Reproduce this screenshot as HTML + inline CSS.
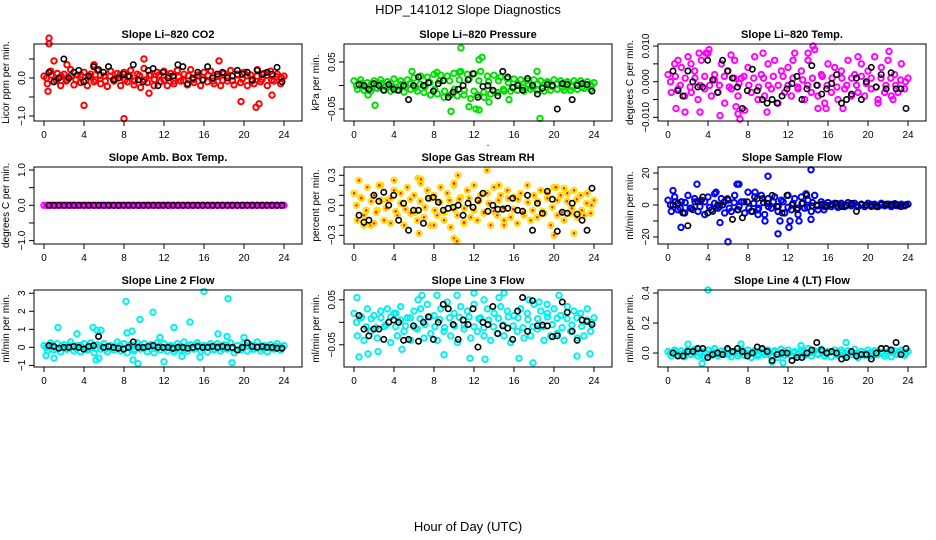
<!DOCTYPE html>
<html><head><meta charset="utf-8"><style>
html,body{margin:0;padding:0;background:#fff;}
svg{display:block;font-family:"Liberation Sans",sans-serif;}
</style></head><body>
<svg id="chart" width="936" height="540" viewBox="0 0 936 540">
<text x="468" y="14" text-anchor="middle" font-size="13">HDP_141012  Slope Diagnostics</text>
<text x="468" y="531" text-anchor="middle" font-size="13">Hour of Day (UTC)</text>
</svg>
<script>
// ---- data ----
const co2 = [0.05,-0.15,0.18,-0.1,0.12,-0.2,0.1,-0.05,0.22,-0.18,0.08,-0.12,0.15,-0.2,0.1,-0.1,0.2,-0.15,0.05,-0.22,0.18,-0.08,0.12,-0.2,0.15,-0.1,0.2,-0.18,0.1,-0.25,0.25,-0.12,0.08,-0.2,0.15,-0.1,0.18,-0.2,0.12,-0.15,0.2,-0.08,0.1,-0.18,0.22,-0.12,0.05,-0.2,0.15,-0.1,0.18,-0.15,0.1,-0.2,0.12,-0.08,0.2,-0.18,0.1,-0.12,0.15,-0.2,0.08,-0.15,0.22,-0.1,0.12,-0.2,0.18,-0.08,0.1,-0.15,0.05];
const co2Core = [0.0,0.08,-0.06,0.05,-0.08,0.06,-0.04,0.08,-0.07,0.03,-0.05,0.07,-0.08,0.05,-0.03,0.08,-0.06,0.04,-0.08,0.06,-0.05,0.07,-0.04,0.08,-0.06,0.05,-0.08,0.03,-0.07,0.06,-0.04,0.08,-0.05,0.07,-0.08,0.04,-0.06,0.05,-0.07,0.08,-0.03,0.06,-0.08,0.05,-0.04,0.07,-0.06,0.03,0.0];
const co2OutHours = [0.4,0.5,0.5,4,8,10,19.7,21.2,21.5,22.8,2.3,17.5,1,10.5,5];
const co2OutVals = [-0.35,1.05,0.9,-0.72,-1.07,0.5,-0.62,-0.77,-0.68,-0.45,0.35,0.45,0.45,-0.4,0.35];
const co2Black = [0.15,-0.1,0.0,0.5,0.0,0.15,0.2,-0.1,0.05,0.3,0.22,0.15,0.3,-0.05,0.0,0.1,0.05,0.35,-0.05,-0.1,0.2,0.25,-0.2,0.15,0.0,0.05,0.35,0.3,-0.15,0.0,0.15,-0.05,0.3,0.0,0.1,0.15,0.0,0.05,0.2,0.1,0.15,-0.05,0.2,0.1,0.15,0.1,0.28,-0.1];

const pres = [0.01,-0.008,0.012,-0.01,0.006,-0.012,0.01,-0.006,0.012,-0.01,0.008,-0.012,0.014,-0.01,0.01,-0.014,0.012,-0.008,0.016,-0.012,0.02,-0.015,0.018,-0.02,0.024,-0.018,0.022,-0.025,0.02,-0.02,0.026,-0.022,0.03,-0.02,0.024,-0.028,0.025,-0.02,0.03,-0.025,0.02,-0.018,0.022,-0.015,0.018,-0.012,0.015,-0.012,0.014,-0.01,0.012,-0.012,0.01,-0.008,0.012,-0.01,0.01,-0.012,0.008,-0.01,0.012,-0.008,0.01,-0.01,0.008,-0.01,0.01,-0.008,0.01,-0.006,0.008,-0.008,0.006];
const presCore = [0.0,0.005,-0.004,0.003,-0.005,0.004,-0.003,0.005,-0.004,0.002,-0.003,0.004,-0.005,0.003,-0.002,0.006,-0.008,0.01,-0.012,0.01,-0.008,0.012,-0.01,0.014,-0.012,0.01,-0.014,0.008,-0.012,0.01,-0.008,0.006,-0.005,0.004,-0.005,0.003,-0.004,0.003,-0.004,0.005,-0.002,0.004,-0.005,0.003,-0.003,0.004,-0.004,0.002,0.0];
const presOutHours = [2.1,10.7,9.7,12.8,12.5,12.2,12.5,18.6,18.3,5.8,10.5,8.3,13.5,15.5,1.4,11.5];
const presOutVals = [-0.042,0.08,-0.055,0.06,0.055,-0.05,-0.052,-0.07,0.03,0.03,0.028,0.028,-0.035,-0.03,-0.02,-0.045];
const presBlack = [0.002,0.0,-0.008,0.004,0.0,-0.01,0.002,-0.008,-0.01,0.0,-0.03,0.0,0.018,0.0,0.006,-0.012,0.004,0.01,-0.025,-0.014,-0.008,0.0,0.012,0.025,-0.025,-0.002,0.0,-0.01,-0.022,0.03,0.018,-0.004,0.0,-0.01,0.015,0.0,-0.018,-0.006,0.002,0.0,-0.05,0.004,0.002,-0.03,0.0,0.004,0.002,-0.012];

const temp = [0.002,-0.003,0.005,-0.002,0.004,-0.004,0.007,-0.003,0.003,-0.005,0.006,-0.002,0.008,-0.004,0.002,-0.003,0.005,-0.006,0.003,-0.002,0.006,-0.004,0.001,-0.008,0.004,-0.003,0.007,-0.005,0.002,-0.004,0.005,-0.002,0.006,-0.006,0.003,-0.003,0.004,-0.004,0.008,-0.002,0.003,-0.005,0.006,-0.003,0.009,-0.004,0.002,-0.006,0.005,-0.003,0.004,-0.005,0.003,-0.002,0.006,-0.004,0.002,-0.003,0.005,-0.004,0.003,-0.002,0.007,-0.005,0.004,-0.003,0.006,-0.004,0.002,-0.003,0.005,-0.002,0.001];
const tempCore = [0.0,0.0015,-0.001,0.001,-0.0015,0.001,-0.001,0.0015,-0.001,0.0005,-0.001,0.0015,-0.0015,0.001,-0.0005,0.0015,-0.001,0.001,-0.0015,0.001,-0.001,0.0015,-0.001,0.0015,-0.001,0.001,-0.0015,0.0005,-0.001,0.001,-0.001,0.0015,-0.001,0.001,-0.0015,0.001,-0.001,0.001,-0.001,0.0015,-0.0005,0.001,-0.0015,0.001,-0.001,0.001,-0.001,0.0005,0.0];
const tempOutHours = [3.1,3.8,4.1,7,7.2,5.2,6.8,14.5,14,22.1,0.8,1.7,3.2,9.9,15,15.8,17.5,6.3,9.5,12.5,19,21,22.5,1,2.3];
const tempOutVals = [0.008,0.008,0.009,-0.009,-0.0105,-0.0095,-0.007,0.01,0.008,0.0085,-0.0075,-0.0085,-0.0085,-0.0085,-0.0075,-0.0075,-0.0075,0.0075,0.008,0.006,0.007,-0.006,-0.005,0.006,0.005];
const tempBlack = [0.003,-0.0025,-0.004,0.003,0.0,-0.0015,-0.0015,0.006,0.0005,-0.003,0.006,0.003,0.001,-0.0015,-0.0075,-0.0025,0.0035,-0.0025,-0.005,-0.006,-0.005,-0.006,-0.004,-0.002,-0.0005,0.0015,-0.005,-0.002,0.0045,-0.001,-0.0035,-0.002,-0.0005,0.002,-0.006,-0.005,-0.0035,0.001,-0.005,0.0,0.004,-0.0015,0.002,-0.002,0.0025,-0.002,-0.002,-0.0075];

const amb = [0,0,0,0,0,0,0,0,0,0,0,0,0,0,0,0,0,0,0,0,0,0,0,0,0,0,0,0,0,0,0,0,0,0,0,0,0,0,0,0,0,0,0,0,0,0,0,0,0,0,0,0,0,0,0,0,0,0,0,0,0,0,0,0,0,0,0,0,0,0,0,0,0];
const ambCore = [0,0,0,0,0,0,0,0,0,0,0,0,0,0,0,0,0,0,0,0,0,0,0,0,0,0,0,0,0,0,0,0,0,0,0,0,0,0,0,0,0,0,0,0,0,0,0,0,0];
const ambOutHours = [];
const ambOutVals = [];
const ambBlack = [0,0,0,0,0,0,0,0,0,0,0,0,0,0,0,0,0,0,0,0,0,0,0,0,0,0,0,0,0,0,0,0,0,0,0,0,0,0,0,0,0,0,0,0,0,0,0,0];

const rh = [0.12,-0.15,0.08,-0.1,0.18,-0.2,0.1,-0.05,0.2,-0.15,0.05,-0.18,0.15,-0.1,0.12,-0.2,0.18,-0.08,0.1,-0.15,0.22,-0.12,0.15,-0.2,0.1,-0.1,0.18,-0.15,0.12,-0.22,0.2,-0.1,0.08,-0.18,0.15,-0.12,0.2,-0.15,0.1,-0.08,0.12,-0.2,0.18,-0.1,0.1,-0.15,0.15,-0.12,0.08,-0.18,0.12,-0.1,0.2,-0.15,0.1,-0.12,0.15,-0.08,0.12,-0.2,0.18,-0.1,0.1,-0.15,0.12,-0.08,0.15,-0.12,0.1,-0.1,0.12,-0.08,0.05];
const rhCore = [0.0,0.07,-0.05,0.04,-0.07,0.05,-0.03,0.07,-0.06,0.02,-0.04,0.06,-0.07,0.04,-0.02,0.07,-0.05,0.03,-0.07,0.05,-0.04,0.06,-0.03,0.07,-0.05,0.04,-0.07,0.02,-0.06,0.05,-0.03,0.07,-0.04,0.06,-0.07,0.03,-0.05,0.04,-0.06,0.07,-0.02,0.05,-0.07,0.04,-0.03,0.06,-0.05,0.02,0.0];
const rhOutHours = [0.5,4,6.4,6.7,10,10.4,13.3,10,10.3,6.5,14.5,20,22,2.5,1,2,8,11,15,21,20.2];
const rhOutVals = [0.25,0.25,0.27,0.26,0.22,0.3,0.35,-0.33,-0.36,-0.28,0.2,-0.3,-0.28,0.2,-0.2,-0.18,-0.2,-0.17,-0.2,0.17,0.18];
const rhBlack = [-0.1,-0.17,-0.15,0.1,0.04,0.13,0.0,0.1,-0.15,0.02,-0.25,-0.05,-0.05,-0.18,0.07,0.08,0.03,-0.05,-0.03,-0.02,0.0,-0.1,0.02,-0.02,0.05,0.12,-0.06,0.0,-0.04,-0.04,-0.03,0.07,-0.05,-0.06,0.1,-0.25,0.02,-0.08,0.14,0.06,-0.26,-0.07,-0.08,0.02,-0.09,-0.15,-0.25,0.17];

const sflow = [3,-4,5,-3,2,-5,6,-2,4,-4,3,-6,5,-3,7,-2,4,-5,3,-4,6,-3,2,-5,8,-4,5,-3,6,-6,4,-2,5,-4,3,-5,6,-3,4,-6,5,-2,3,-4,6,-3,2,-1,1.5,-1,1,-1.5,1,-1,1.5,-0.5,1,-1,0.5,-1,1,-0.5,0.5,-1,1,-0.5,0.5,-1,0.8,-0.5,0.5,-0.5,0.5];
const sflowCore = [0,2,-2,1.5,-2,2,-1,2,-1.5,1,-1,2,-2,1.5,-1,2,-2,1,-2,1.5,-1,2,-1,2,-1.5,1,-2,1,-1.5,1.5,-0.5,0.4,-0.3,0.3,-0.4,0.2,-0.3,0.3,-0.3,0.4,-0.2,0.3,-0.4,0.3,-0.2,0.3,-0.3,0.2,0];
const sflowOutHours = [2.9,6.9,7.1,10,14.3,6,11,1.3,12.1,11.2,9.7,5.2,12.2,13.1,14.3,0.5,4.8,8.7,13.8,9,15.6];
const sflowOutVals = [13,13,13,18,22,-23,-18,-14,-14,-10,-10,-11,-10,-10,-9,9,8,8,7,-6,-3];
const sflowBlack = [0,1,-5,-13,-3,2,5,-5,-4,0,0,4,-9,-3,-8,2,-4,4,4,1,6,-1,-5,6,0,-3,1,6,-0.5,0,0,-1,0.5,1,-1,0,1,-4,0,0,-1,-1,0,0.5,0,0.5,-1,0];

const line2 = [0.1,-0.2,0.25,-0.15,0.2,-0.25,0.15,-0.1,0.3,-0.2,0.1,-0.25,0.2,-0.15,0.25,-0.3,0.15,-0.1,0.2,-0.25,0.1,-0.15,0.3,-0.2,0.2,-0.3,0.15,-0.2,0.25,-0.1,0.2,-0.25,0.15,-0.3,0.25,-0.15,0.2,-0.2,0.1,-0.25,0.2,-0.15,0.3,-0.2,0.15,-0.1,0.25,-0.2,0.1,-0.25,0.2,-0.15,0.2,-0.2,0.15,-0.1,0.25,-0.3,0.1,-0.15,0.2,-0.2,0.15,-0.1,0.3,-0.2,0.1,-0.25,0.15,-0.1,0.2,-0.15,0.1];
const line2Core = [0,0.1,-0.08,0.06,-0.1,0.08,-0.05,0.1,-0.08,0.04,-0.06,0.08,-0.1,0.06,-0.04,0.1,-0.08,0.05,-0.1,0.08,-0.06,0.09,-0.05,0.1,-0.08,0.06,-0.1,0.04,-0.08,0.07,-0.05,0.1,-0.06,0.08,-0.1,0.05,-0.08,0.06,-0.08,0.1,-0.04,0.07,-0.1,0.06,-0.05,0.08,-0.07,0.04,0];
const line2OutHours = [0.2,1.4,1,3.3,4.9,5.3,5.7,8.2,8.3,8.8,9.6,10.9,13,14.6,16,18.4,17.4,18.8,9.4,12,8.9,15.6,5.2,5.5,20,18.3,11.6,13.8];
const line2OutVals = [-0.45,1.1,-0.6,0.75,1.1,0.95,0.95,2.55,0.8,0.9,1.55,1.95,1.1,1.4,3.1,2.7,0.75,-0.85,-0.9,-0.8,-0.7,-0.55,-0.7,-0.6,0.55,0.6,0.55,-0.5];
const line2Black = [0.1,0.05,-0.05,0.0,0.0,0.05,0.0,-0.1,0.05,0.1,0.6,0.0,0.05,0.0,-0.05,-0.1,0.0,0.3,0.0,0.0,0.05,0.1,0.0,0.0,0.0,-0.05,0.0,0.0,-0.05,0.0,0.05,0.0,0.0,0.05,0.0,0.05,0.0,0.0,-0.15,0.0,0.25,0.05,0.0,0.05,0.0,0.0,-0.05,-0.05];

const line3 = [0.02,-0.03,0.01,-0.04,0.03,-0.02,0.015,-0.035,0.025,-0.01,0.03,-0.045,0.02,-0.03,0.035,-0.02,0.01,-0.04,0.025,-0.015,0.03,-0.035,0.04,-0.025,0.015,-0.04,0.03,-0.02,0.045,-0.03,0.02,-0.045,0.035,-0.015,0.025,-0.035,0.04,-0.02,0.01,-0.03,0.03,-0.04,0.02,-0.025,0.035,-0.03,0.025,-0.045,0.015,-0.02,0.03,-0.035,0.02,-0.03,0.04,-0.015,0.025,-0.04,0.02,-0.03,0.03,-0.025,0.015,-0.04,0.035,-0.02,0.025,-0.035,0.02,-0.03,0.03,-0.02,0.01];
const line3Core = [0,0.012,-0.01,0.008,-0.012,0.01,-0.006,0.012,-0.01,0.005,-0.008,0.01,-0.012,0.008,-0.005,0.012,-0.01,0.006,-0.012,0.01,-0.008,0.011,-0.006,0.012,-0.01,0.008,-0.012,0.005,-0.01,0.009,-0.006,0.012,-0.008,0.01,-0.012,0.006,-0.01,0.008,-0.01,0.012,-0.005,0.009,-0.012,0.008,-0.006,0.01,-0.009,0.005,0];
const line3OutHours = [0.3,0.5,4.2,8.3,6.8,10.3,12,15,13,20.5,16.5,17.9,13.1,11.6,9,22.3,23.6,2.4,1.4,4.8,17.5,18.5,6.4,14.5,19.3];
const line3OutVals = [0.055,-0.077,0.02,0.06,0.06,0.06,0.065,0.065,0.05,0.06,-0.08,-0.09,-0.082,-0.08,-0.072,-0.075,-0.07,-0.065,-0.07,-0.06,0.05,0.045,0.05,0.055,0.04];
const line3Black = [0.015,-0.015,-0.03,-0.015,-0.015,-0.038,0.0,0.005,0.0,-0.04,-0.038,-0.008,-0.042,0.0,0.012,-0.038,0.0,0.04,0.03,-0.005,-0.038,0.005,-0.005,0.03,-0.055,0.0,-0.005,0.035,-0.025,-0.008,-0.013,-0.038,0.025,0.055,-0.02,0.048,-0.008,-0.006,-0.008,-0.032,-0.03,0.045,0.022,-0.02,-0.04,0.005,0.002,-0.005];

const line4 = [0.01,-0.02,0.02,-0.015,0.015,-0.025,0.02,-0.01,0.025,-0.02,0.01,-0.03,0.02,-0.015,0.03,-0.02,0.015,-0.01,0.02,-0.025,0.01,-0.02,0.025,-0.015,0.02,-0.03,0.015,-0.02,0.025,-0.01,0.02,-0.025,0.015,-0.03,0.025,-0.015,0.02,-0.02,0.01,-0.025,0.02,-0.015,0.03,-0.02,0.015,-0.01,0.025,-0.02,0.01,-0.025,0.02,-0.015,0.02,-0.02,0.015,-0.01,0.025,-0.03,0.01,-0.015,0.02,-0.02,0.015,-0.01,0.03,-0.02,0.01,-0.025,0.015,-0.01,0.02,-0.015,0.01];
const line4Core = [0,0.008,-0.006,0.005,-0.008,0.006,-0.004,0.008,-0.006,0.003,-0.005,0.007,-0.008,0.005,-0.003,0.008,-0.006,0.004,-0.008,0.006,-0.005,0.007,-0.004,0.008,-0.006,0.005,-0.008,0.003,-0.007,0.006,-0.004,0.008,-0.005,0.007,-0.008,0.004,-0.006,0.005,-0.007,0.008,-0.003,0.006,-0.008,0.005,-0.004,0.007,-0.006,0.003,0];
const line4OutHours = [4,3.4,2,10.4,11.5,7.3,17.8,13.3];
const line4OutVals = [0.42,-0.07,0.06,-0.06,-0.065,0.06,0.07,0.05];
const line4Black = [0.0,-0.02,-0.02,0.01,0.01,0.03,0.03,-0.03,-0.01,0.0,-0.01,0.03,0.01,0.03,0.01,-0.02,0.0,0.04,0.03,0.01,-0.05,-0.01,0.0,0.0,-0.05,-0.03,-0.03,0.0,0.02,0.07,0.02,0.0,0.01,0.0,-0.04,-0.03,0.01,-0.02,-0.01,-0.01,-0.04,0.0,0.03,0.03,0.02,0.07,-0.01,0.03];

const xTicks = [0,4,8,12,16,20,24];

// ---- panel layout ----
const NS = "http://www.w3.org/2000/svg";
const svg = document.getElementById('chart');
function mk(tag, attrs, parent){
  const e = document.createElementNS(NS, tag);
  for (const k in attrs) e.setAttribute(k, attrs[k]);
  (parent||svg).appendChild(e);
  return e;
}
const colX = [34, 344, 658], rowY = [44, 167, 290], W = 268, H = 77;
const panels = [
 {c:0,r:0,key:'co2',title:'Slope Li\u2013820 CO2',ylab:'Licor ppm per min.',lo:-1.132,hi:0.895,ticks:[-1,-0.5,0,0.5],labels:{'-1':'\u22121.0','0':'0.0'},color:'#ff0000',vals:co2,core:co2Core,oh:co2OutHours,ov:co2OutVals,blk:co2Black},
 {c:1,r:0,key:'pressure',title:'Slope Li\u2013820 Pressure',ylab:'kPa per min.',lo:-0.0755,hi:0.0883,ticks:[-0.05,0,0.05],labels:{'-0.05':'\u22120.05','0.05':'0.05'},color:'#00e000',vals:pres,core:presCore,oh:presOutHours,ov:presOutVals,blk:presBlack},
 {c:2,r:0,key:'temp',title:'Slope Li\u2013820 Temp.',ylab:'degrees C per min.',lo:-0.01102,hi:0.01057,ticks:[-0.01,-0.005,0,0.005,0.01],labels:{'-0.01':'\u22120.010','0':'0.000','0.01':'0.010'},color:'#ff00ff',vals:temp,core:tempCore,oh:tempOutHours,ov:tempOutVals,blk:tempBlack},
 {c:0,r:1,key:'amb-temp',title:'Slope Amb. Box Temp.',ylab:'degrees C per min.',lo:-1.096,hi:1.085,ticks:[-1,-0.5,0,0.5,1],labels:{'-1':'\u22121.0','0':'0.0','1':'1.0'},color:'#ff00ff',vals:amb,core:ambCore,oh:ambOutHours,ov:ambOutVals,blk:ambBlack},
 {c:1,r:1,key:'rh',title:'Slope Gas Stream RH',ylab:'percent per min.',lo:-0.387,hi:0.383,ticks:[-0.3,-0.2,-0.1,0,0.1,0.2,0.3],labels:{'-0.3':'\u22120.3','0':'0.0','0.3':'0.3'},color:'#ffdd00',inner:'#ff2000',vals:rh,core:rhCore,oh:rhOutHours,ov:rhOutVals,blk:rhBlack},
 {c:2,r:1,key:'sample-flow',title:'Slope Sample Flow',ylab:'ml/min per min.',lo:-24.4,hi:23.75,ticks:[-20,-10,0,10,20],labels:{'-20':'\u221220','0':'0','20':'20'},color:'#0000ff',vals:sflow,core:sflowCore,oh:sflowOutHours,ov:sflowOutVals,blk:sflowBlack},
 {c:0,r:2,key:'line2',title:'Slope Line 2 Flow',ylab:'ml/min per min.',lo:-1.09,hi:3.18,ticks:[-1,0,1,2,3],labels:{'-1':'\u22121','0':'0','1':'1','2':'2','3':'3'},color:'#00f0f0',vals:line2,core:line2Core,oh:line2OutHours,ov:line2OutVals,blk:line2Black},
 {c:1,r:2,key:'line3',title:'Slope Line 3 Flow',ylab:'ml/min per min.',lo:-0.0993,hi:0.0718,ticks:[-0.05,0,0.05],labels:{'-0.05':'\u22120.05','0.05':'0.05'},color:'#00f0f0',vals:line3,core:line3Core,oh:line3OutHours,ov:line3OutVals,blk:line3Black},
 {c:2,r:2,key:'line4',title:'Slope Line 4 (LT) Flow',ylab:'ml/min per min.',lo:-0.093,hi:0.42,ticks:[0,0.2,0.4],labels:{'0':'0.0','0.2':'0.2','0.4':'0.4'},color:'#00f0f0',vals:line4,core:line4Core,oh:line4OutHours,ov:line4OutVals,blk:line4Black}
];

panels.forEach(p => {
  const bx = colX[p.c], by = rowY[p.r];
  const xs = h => bx + 10 + h * 240 / 24;
  const ys = v => by + H - (v - p.lo) / (p.hi - p.lo) * H;
  const g = mk('g', {});
  
  

  const t = mk('text', {x: bx + W/2, y: by - 6, 'text-anchor':'middle', 'font-size':11, 'font-weight':'bold'}, g);
  t.textContent = p.title;
  
  

  const yl = mk('text', {x: 0, y: 0, 'text-anchor':'middle', 'font-size':10, transform:`translate(${bx-25},${by+H/2}) rotate(-90)`}, g);
  yl.textContent = p.ylab;
  
  

  const xa = mk('g', {}, g);
  
  
  xTicks.forEach(tk => {
    mk('line', {x1: xs(tk), x2: xs(tk), y1: by+H, y2: by+H+5, stroke:'#000', 'stroke-width':1}, xa);
    const tl = mk('text', {x: xs(tk), y: by+H+17, 'text-anchor':'middle', 'font-size':10}, xa);
    tl.textContent = tk;
    
    
  });
  const ya = mk('g', {}, g);
  
  
  mk('line', {x1: bx, x2: bx, y1: ys(p.ticks[0]), y2: ys(p.ticks[p.ticks.length-1]), stroke:'#000'}, ya);
  p.ticks.forEach(tk => {
    mk('line', {x1: bx-5, x2: bx, y1: ys(tk), y2: ys(tk), stroke:'#000'}, ya);
    const lab = p.labels[String(tk)];
    if (lab !== undefined) {
      const tl = mk('text', {x:0, y:0, 'text-anchor':'middle', 'font-size':10, transform:`translate(${bx-9},${ys(tk)}) rotate(-90)`}, ya);
      tl.textContent = lab;
      
      
    }
  });

  const pts = mk('g', {}, g);
  
  
  const dot = (h, v, col, inner, sw) => {
    mk('circle', {cx: xs(h), cy: ys(v), r: 2.7, fill:'none', stroke: col, 'stroke-width': sw}, pts);
    if (inner) mk('circle', {cx: xs(h), cy: ys(v), r: 1.3, fill: inner}, pts);
  };
  const n = p.vals.length;
  p.vals.forEach((v, i) => dot(i * 24 / (n - 1), v, p.color, p.inner, 2));
  const k = p.core.length;
  p.core.forEach((v, i) => dot(0.25 + i * 23.5 / (k - 1), v, p.color, p.inner, 2));
  p.oh.forEach((h, i) => dot(h, p.ov[i], p.color, p.inner, 2));
  const m = p.blk.length;
  p.blk.forEach((v, i) => dot(0.5 + i * 23.3 / (m - 1), v, '#000', null, 1.6));

  const box = mk('rect', {x: bx, y: by, width: W, height: H, fill:'none', stroke:'#000', 'stroke-width':1}, g);
  
  
});
const d = mk('text', {x: 488, y: 146, 'font-size':10, 'text-anchor':'middle'});
d.textContent = '.';


</script>
</body></html>
